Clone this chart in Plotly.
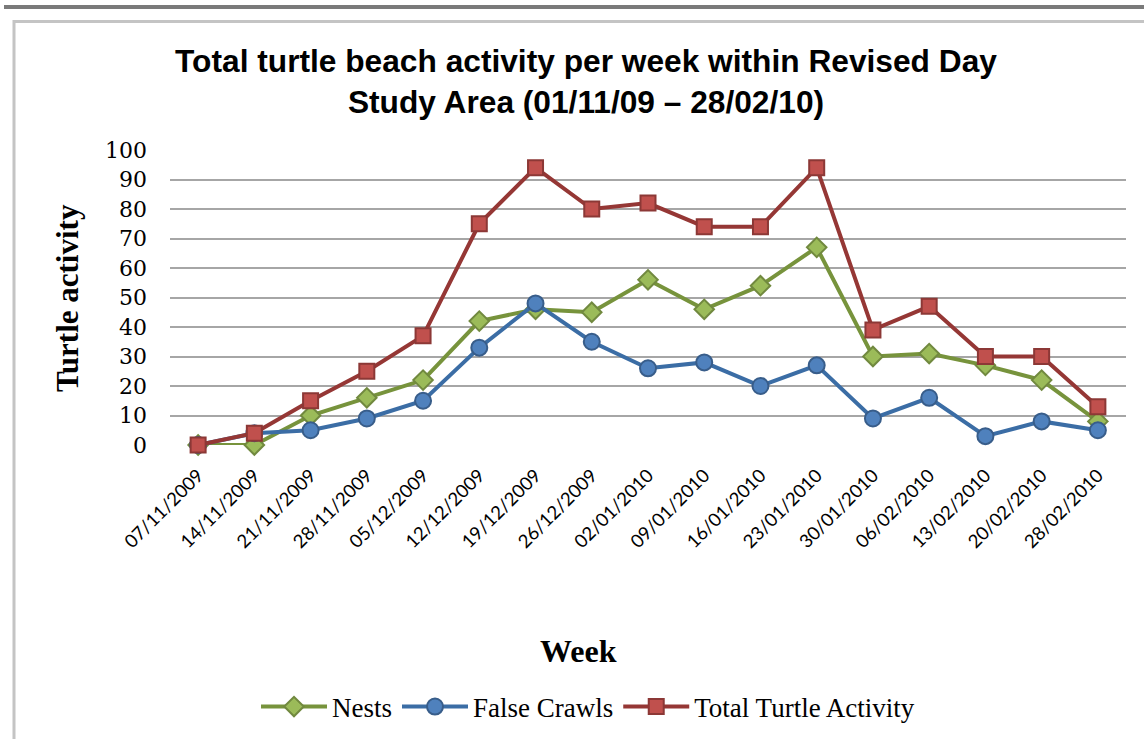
import plotly.graph_objects as go

weeks = ["07/11/2009", "14/11/2009", "21/11/2009", "28/11/2009", "05/12/2009",
         "12/12/2009", "19/12/2009", "26/12/2009", "02/01/2010", "09/01/2010",
         "16/01/2010", "23/01/2010", "30/01/2010", "06/02/2010", "13/02/2010",
         "20/02/2010", "28/02/2010"]
nests = [0, 0, 10, 16, 22, 42, 46, 45, 56, 46, 54, 67, 30, 31, 27, 22, 8]
false_crawls = [0, 4, 5, 9, 15, 33, 48, 35, 26, 28, 20, 27, 9, 16, 3, 8, 5]
total = [0, 4, 15, 25, 37, 75, 94, 80, 82, 74, 74, 94, 39, 47, 30, 30, 13]
y_ticks = [0, 10, 20, 30, 40, 50, 60, 70, 80, 90, 100]

W, H = 1144, 739
L, R, T, B = 170, 1126, 150, 445

def px(x):
    return (x - L) / (R - L)

def py(y):
    return (B - y) / (B - T)

SERIF = "Liberation Serif, serif"

fig = go.Figure()
fig.add_trace(go.Scatter(
    x=weeks, y=nests, name="Nests", mode="lines+markers",
    line=dict(color="#77933C", width=4),
    marker=dict(symbol="diamond", size=15, color="#9BBB59",
                line=dict(color="#71893F", width=2)),
    cliponaxis=False))
fig.add_trace(go.Scatter(
    x=weeks, y=false_crawls, name="False Crawls", mode="lines+markers",
    line=dict(color="#3B6DA5", width=4),
    marker=dict(symbol="circle", size=16, color="#4F81BD",
                line=dict(color="#385D8A", width=2)),
    cliponaxis=False))
fig.add_trace(go.Scatter(
    x=weeks, y=total, name="Total Turtle Activity", mode="lines+markers",
    line=dict(color="#953735", width=4),
    marker=dict(symbol="square", size=15, color="#C0504D",
                line=dict(color="#8C3836", width=2)),
    cliponaxis=False))

fig.update_layout(
    width=W, height=H,
    margin=dict(l=L, r=W - R, t=T, b=H - B, autoexpand=False),
    paper_bgcolor="white", plot_bgcolor="white",
    title=dict(
        text="<b>Total turtle beach activity per week within Revised Day<br>Study Area (01/11/09 \u2013 28/02/10)</b>",
        x=586 / W, xanchor="center", xref="container",
        y=1 - 72 / H, yanchor="middle", yref="container",
        font=dict(family="Liberation Sans, Arial, sans-serif", size=31.7, color="black"),
    ),
    xaxis=dict(
        type="category", range=[-0.5, len(weeks) - 0.5],
        tickangle=-45, showgrid=False, showline=False, zeroline=False,
        ticks="", tickfont=dict(family="Lato, sans-serif", size=18.5, color="black"),
        ticklabelstandoff=15,
    ),
    yaxis=dict(
        range=[0, 100], tickvals=y_ticks, showgrid=True,
        gridcolor="#A6A6A6", gridwidth=2, zeroline=False, showline=False,
        ticks="", tickfont=dict(family="DejaVu Serif, serif", size=22, color="black"),
        ticklabelstandoff=22,
    ),
    legend=dict(
        orientation="h", x=px(588), xanchor="center", y=py(707), yanchor="middle",
        font=dict(family=SERIF, size=27, color="black"),
        tracegroupgap=0, itemwidth=66,
    ),
    showlegend=True,
)

fig.add_annotation(text="<b>Week</b>", x=px(578), y=py(651), xref="paper", yref="paper",
                   showarrow=False, xanchor="center", yanchor="middle",
                   font=dict(family=SERIF, size=32, color="black"))
fig.add_annotation(text="<b>Turtle activity</b>", x=px(67), y=py(298), xref="paper", yref="paper",
                   showarrow=False, xanchor="center", yanchor="middle", textangle=-90,
                   font=dict(family=SERIF, size=31, color="black"))

# frame lines
fig.add_shape(type="line", xref="paper", yref="paper", x0=px(4), x1=px(W), y0=py(7), y1=py(7),
              line=dict(color="#7A7A7A", width=4))
fig.add_shape(type="line", xref="paper", yref="paper", x0=px(13), x1=px(W), y0=py(21.5), y1=py(21.5),
              line=dict(color="#C4C4C4", width=3))
fig.add_shape(type="line", xref="paper", yref="paper", x0=px(14), x1=px(14), y0=py(20), y1=py(H),
              line=dict(color="#C4C4C4", width=3))

fig.write_html("out.html", config={"displayModeBar": False},
               post_script="document.body.style.margin='0';document.body.style.overflow='hidden';")
